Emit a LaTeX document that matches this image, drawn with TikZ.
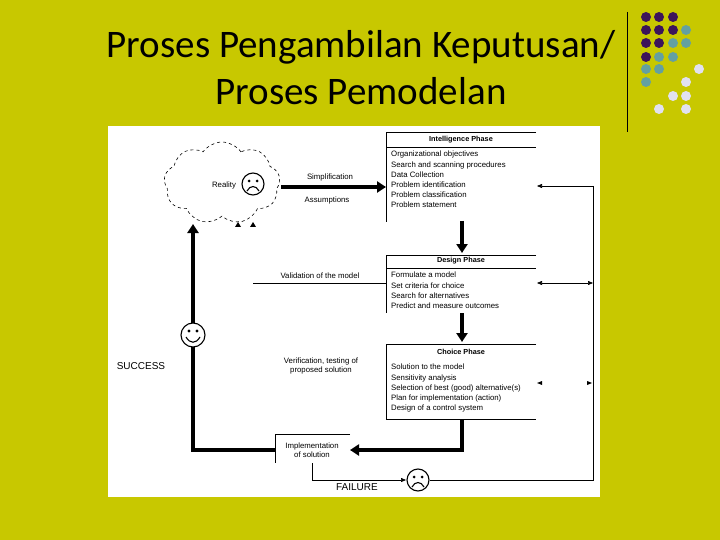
\documentclass[tikz,border=0pt]{standalone}
\usepackage{fontspec}
\setmainfont{Liberation Sans}
\newfontfamily\titlefont{Carlito}
\usetikzlibrary{arrows.meta,shapes.symbols}
\definecolor{bg}{RGB}{200,200,0}
\definecolor{dk}{RGB}{60,20,90}
\definecolor{tl}{RGB}{100,160,160}
\definecolor{wt}{RGB}{225,225,240}
\tikzset{
 lbl/.style={font=\fontsize{7.8}{9}\selectfont,inner sep=0pt},
 item/.style={font=\fontsize{7.8}{10.2}\selectfont,inner sep=0pt,anchor=north west,align=left},
 hdr/.style={font=\bfseries\fontsize{7.3}{8}\selectfont,inner sep=0pt},
 thick arrow/.style={line width=3.5pt,-{Triangle[length=9pt,width=11pt]}},
 thickline/.style={line width=3.5pt},
 thin/.style={line width=0.6pt},
 dot/.style={circle,minimum size=10pt,inner sep=0pt}
}
\newcommand{\sadface}[2]{%
 \draw[line width=1.1pt] (#1,#2) circle (11);
 \fill (#1-4,#2-3) circle (1.5); \fill (#1+4,#2-3) circle (1.5);
 \draw[line width=1.1pt] (#1-6,#2+7) .. controls (#1-3,#2+1) and (#1+3,#2+1) .. (#1+6,#2+7);}
\newcommand{\happyface}[2]{%
 \draw[line width=1.1pt] (#1,#2) circle (12);
 \fill (#1-4,#2-4) circle (1.6); \fill (#1+4,#2-4) circle (1.6);
 \draw[line width=1.1pt] (#1-7,#2+2) .. controls (#1-3,#2+9) and (#1+3,#2+9) .. (#1+7,#2+2);}
\begin{document}
\begin{tikzpicture}[x=1pt,y=-1pt]
\fill[bg] (0,0) rectangle (720,540);
\useasboundingbox (0,0) rectangle (720,540);
\node[font=\titlefont\fontsize{39}{47}\selectfont,align=center] (title) at (361,68) {Proses Pengambilan Keputusan/\\Proses Pemodelan};
\draw[line width=1pt] (627,12) -- (627,132);
% dots
\foreach \x/\y/\c in {646/17/dk,659/17/dk,673/17/dk,
 646/30/dk,659/30/dk,673/30/dk,686/30/tl,
 646/43/dk,659/43/dk,673/43/tl,686/43/tl,
 646/57/dk,659/57/tl,673/57/tl,
 646/69/tl,659/69/tl,699/69/wt,
 646/82/tl,686/82/wt,
 673/96/wt,686/96/wt,
 659/109/wt,686/109/wt}
 \fill[\c] (\x,\y) circle (5);
\fill[white] (108,126) rectangle (600,497);
% cloud
\node[cloud,draw,dashed,thin,cloud puffs=9,cloud puff arc=110,aspect=1.4,minimum width=116pt,minimum height=82pt] (cloud) at (222,183) {};
\node[lbl] (reality) at (224,185) {Reality};
\sadface{253}{184}
\fill (235,227) -- (238,222) -- (241,227) -- cycle;
\fill (250,227) -- (253,222) -- (256,227) -- cycle;
% intelligence
\draw[thin] (536,132) -- (386,132) -- (386,222);
\draw[thin] (386,147) -- (536,147);
\node[hdr] (ih) at (461,140) {Intelligence Phase};
\node[item] (ii) at (391,151) {Organizational objectives\\Search and scanning procedures\\Data Collection\\Problem identification\\Problem classification\\Problem statement};
\coordinate (iin) at (386,187);
\draw[thick arrow] (281,187) -- (iin);
\node[lbl] (simp) at (330,177) {Simplification};
\node[lbl] (assm) at (327,200) {Assumptions};
% design
\draw[thick arrow] (462,221) -- (462,253);
\draw[thin] (536,255) -- (386,255) -- (386,313);
\draw[thin] (386,268) -- (536,268);
\node[hdr] (dh) at (461,261) {Design Phase};
\node[item] (di) at (391,272) {Formulate a model\\Set criteria for choice\\Search for alternatives\\Predict and measure outcomes};
\coordinate (vl) at (253,283);
\draw[thin] (vl) -- (386,283);
\node[lbl] (val) at (320,276) {Validation of the model};
% choice
\draw[thick arrow] (462,313) -- (462,342);
\draw[thin] (536,344) -- (386,344) -- (386,419) -- (536,419);
\node[hdr] (ch) at (461,352) {Choice Phase};
\node[item] (ci) at (391,364) {Solution to the model\\Sensitivity analysis\\Selection of best (good) alternative(s)\\Plan for implementation (action)\\Design of a control system};
% right side
\coordinate (r1) at (593,186);
\coordinate (r2) at (593,480);
\draw[thin,-{Triangle[length=5pt,width=4pt]}] (r1) -- (537,186);
\draw[thin] (r1) -- (r2) -- (430,480);
\draw[thin,{Triangle[length=5pt,width=4pt]}-{Triangle[length=5pt,width=4pt]}] (537,283) -- (593,283);
\fill (537,383) -- (542,381) -- (542,385) -- cycle;
\fill (592,383) -- (587,381) -- (587,385) -- cycle;
% implementation
\draw[thick arrow] (462,419) -- (462,450) -- (350,450);
\draw[thin] (350,434) -- (275,434) -- (275,463);
\node[lbl,align=center] (impl) at (312,450) {Implementation\\of solution};
\draw[thickline] (275,450) -- (193,450) -- (193,347);
\draw[thick arrow] (193,323) -- (193,224);
\happyface{193}{335}
\node[font=\fontsize{10}{12}\selectfont] (succ) at (141,366) {SUCCESS};
\node[lbl,align=center] (ver) at (321,366) {Verification, testing of\\proposed solution};
\draw[thin,-{Triangle[length=5pt,width=4pt]}] (312,463) -- (312,480) -- (406,480);
\sadface{418}{480}
\node[font=\fontsize{10}{12}\selectfont] (fail) at (357,487) {FAILURE};
\end{tikzpicture}
\end{document}
